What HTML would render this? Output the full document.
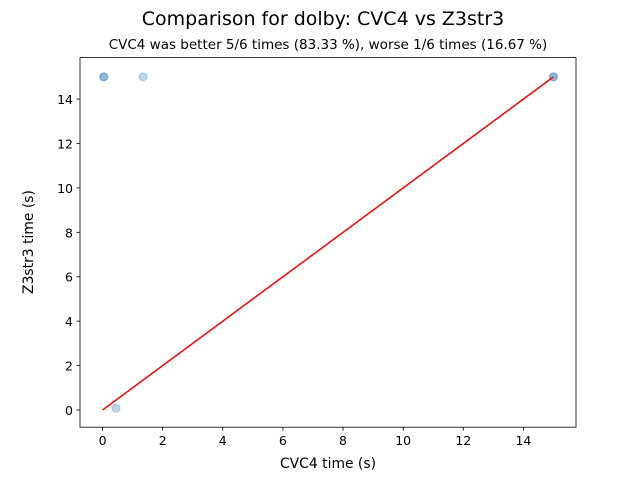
<!DOCTYPE html>
<html><head><meta charset="utf-8"><style>
body{margin:0;background:#fff;font-family:"Liberation Sans","DejaVu Sans",sans-serif}
text{font-family:"DejaVu Sans","Liberation Sans",sans-serif}
</style></head><body>
<svg id="chart" width="640" height="480" xmlns="http://www.w3.org/2000/svg">
<rect width="640" height="480" fill="#fff"/>
<text x="323" y="25" text-anchor="middle" font-size="19">Comparison for dolby: CVC4 vs Z3str3</text>
<text x="328" y="49" text-anchor="middle" font-size="13.5">CVC4 was better 5/6 times (83.33 %), worse 1/6 times (16.67 %)</text>
<g id="plot"></g>
<rect x="80" y="57.6" width="496" height="369.6" fill="none" stroke="#000" stroke-width="0.8"/>
<text x="328" y="468" text-anchor="middle" font-size="13.9">CVC4 time (s)</text>
<text transform="translate(33,242) rotate(-90)" text-anchor="middle" font-size="13.9">Z3str3 time (s)</text>
</svg>
<script>
const xVals=[0.03,0.05,1.35,0.45,15,15];
const yVals=[15,15,15,0.08,15,15];
const xTicks=[0,2,4,6,8,10,12,14];
const yTicks=[0,2,4,6,8,10,12,14];
const lineX=[0,15];
const NS="http://www.w3.org/2000/svg";
const L=80,R=576,T=57.6,B=427.2,mn=-0.75,mx=15.75;
const sx=v=>L+(v-mn)/(mx-mn)*(R-L);
const sy=v=>410-v*22.21;
const g=document.getElementById('plot');
function mk(t,a){const e=document.createElementNS(NS,t);for(const k in a)e.setAttribute(k,a[k]);g.appendChild(e);return e;}
xTicks.forEach(v=>{
 const l=mk('line',{x1:sx(v),x2:sx(v),y1:B,y2:B+3.5,stroke:'#000','stroke-width':0.8});
 
 
 const t=mk('text',{x:sx(v),y:B+18,'text-anchor':'middle','font-size':12.5});
 t.textContent=v;
 
 
});
yTicks.forEach(v=>{
 const l=mk('line',{x1:L-3.5,x2:L,y1:sy(v),y2:sy(v),stroke:'#000','stroke-width':0.8});
 
 
 const t=mk('text',{x:L-7,y:sy(v)+5,'text-anchor':'end','font-size':12.5});
 t.textContent=v;
 
 
});
xVals.forEach((v,i)=>{
 const c=mk('circle',{cx:sx(v),cy:sy(yVals[i]),r:4,fill:'#1f77b4','fill-opacity':0.3,stroke:'#1f77b4','stroke-opacity':0.3,'stroke-width':1});
 
 
});
const ln=mk('line',{x1:sx(lineX[0]),y1:sy(lineX[0]),x2:sx(lineX[1]),y2:sy(lineX[1]),stroke:'red','stroke-width':1.5});


</script>
</body></html>
